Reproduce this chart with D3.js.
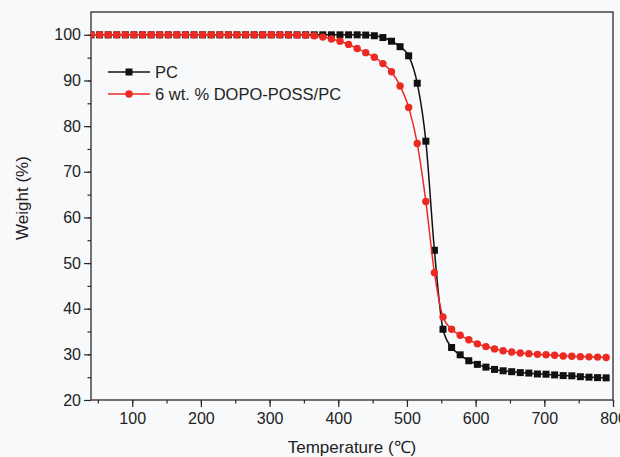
<!DOCTYPE html>
<html>
<head>
<meta charset="utf-8">
<script src="https://cdn.jsdelivr.net/npm/d3@7"></script>
<style>
    body { margin: 0; background: #f8f9fb; }
    svg { display: block; font-family: "Liberation Sans", Arial, sans-serif; }
</style>
</head>
<body>
<div id="chart"></div>
<script>
// Temperature (C) at each plotted marker
var temps = [40, 52.5, 65, 77.5, 90, 102.5, 115, 127.5, 140, 152.5,
             165, 177.5, 190, 202.5, 215, 227.5, 240, 252.5, 265, 277.5,
             290, 302.5, 315, 327.5, 340, 352.5, 365, 377.5, 390, 402.5,
             415, 427.5, 440, 452.5, 465, 477.5, 490, 502.5, 515, 527.5,
             540, 552.5, 565, 577.5, 590, 602.5, 615, 627.5, 640, 652.5,
             665, 677.5, 690, 702.5, 715, 727.5, 740, 752.5, 765, 777.5,
             790];

// Weight (%) of neat PC
var pc = [100, 100, 100, 100, 100, 100, 100, 100, 100, 100,
          100, 100, 100, 100, 100, 100, 100, 100, 100, 100,
          100, 100, 100, 100, 100, 100, 100, 100, 100, 100,
          100, 100, 99.95, 99.8, 99.4, 98.6, 97.4, 95.4, 89.4, 76.7,
          52.8, 35.5, 31.5, 29.9, 28.6, 27.8, 27.2, 26.7, 26.4, 26.2,
          26.0, 25.9, 25.7, 25.65, 25.5, 25.35, 25.3, 25.1, 25.0, 24.9,
          24.85];

// Weight (%) of 6 wt.% DOPO-POSS/PC
var dopo = [100, 100, 100, 100, 100, 100, 100, 100, 100, 100,
            100, 100, 100, 100, 100, 100, 100, 100, 100, 100,
            100, 100, 100, 99.95, 99.95, 99.9, 99.8, 99.5, 99.1, 98.6,
            97.9, 97.0, 96.1, 95.1, 93.7, 91.9, 88.8, 84.1, 76.2, 63.5,
            47.9, 38.2, 35.5, 34.2, 33.2, 32.3, 31.7, 31.2, 30.8, 30.5,
            30.3, 30.15, 30.0, 29.9, 29.8, 29.65, 29.6, 29.5, 29.45, 29.4,
            29.3];

var xTicks = [100, 200, 300, 400, 500, 600, 700, 800];
var yTicks = [20, 30, 40, 50, 60, 70, 80, 90, 100];
var seriesNames = ["PC", "6 wt. % DOPO-POSS/PC"];

(function(){
    var width = 620, height = 457;
    var left = 91, right = 613, top = 12, bottom = 400;
    var ink = "#2a2a2a";
    var red = "#ec2a22";

    var svg = d3.select("#chart").append("svg")
                .attr("width", width)
                .attr("height", height);

    var x = d3.scaleLinear().domain([40, 800]).range([left, right]);
    var y = d3.scaleLinear().domain([20, 105]).range([bottom, top]);

    svg.append("defs").append("clipPath").attr("id", "plot-clip")
       .append("rect")
       .attr("x", left).attr("y", top)
       .attr("width", right - left).attr("height", bottom - top);

    //
    // axes: major ticks with labels, minor ticks in between, outward
    //
    var xMinor = d3.range(50, 801, 50);
    var yMinor = d3.range(25, 105, 5);

    var gx = svg.append("g").attr("transform", "translate(0," + bottom + ")");
    gx.call(d3.axisBottom(x).tickValues(xMinor).tickSize(3.5).tickFormat(""));
    gx.call(function(g) {
        g.append("g").call(d3.axisBottom(x).tickValues(xTicks).tickSize(7)
                                 .tickPadding(6).tickFormat(d3.format("d")));
    });
    var gy = svg.append("g").attr("transform", "translate(" + left + ",0)");
    gy.call(d3.axisLeft(y).tickValues(yMinor).tickSize(3.5).tickFormat(""));
    gy.call(function(g) {
        g.append("g").call(d3.axisLeft(y).tickValues(yTicks).tickSize(7)
                                 .tickPadding(3).tickFormat(d3.format("d")));
    });
    svg.selectAll(".domain").remove();
    svg.selectAll(".tick line").attr("stroke", ink).attr("stroke-width", 1.2);
    svg.selectAll(".tick text").attr("fill", "#222").style("font-size", "16px")
       .style("font-family", "\"Liberation Sans\", Arial, sans-serif");

    // frame
    svg.append("rect")
       .attr("x", left).attr("y", top)
       .attr("width", right - left).attr("height", bottom - top)
       .attr("fill", "none").attr("stroke", ink).attr("stroke-width", 1.3);

    //
    // series: line through the data with markers on each point
    //
    var line = d3.line()
                 .x(function(d) { return x(d[0]); })
                 .y(function(d) { return y(d[1]); })
                 .curve(d3.curveMonotoneX);
    var plot = svg.append("g").attr("clip-path", "url(#plot-clip)");

    var pcData = d3.zip(temps, pc);
    var dopoData = d3.zip(temps, dopo);

    plot.append("path").datum(pcData).attr("d", line)
        .attr("fill", "none").attr("stroke", "#111").attr("stroke-width", 1.5);
    plot.selectAll("rect.pc").data(pcData).enter().append("rect")
        .attr("class", "pc")
        .attr("x", function(d) { return x(d[0]) - 3.5; })
        .attr("y", function(d) { return y(d[1]) - 3.5; })
        .attr("width", 7).attr("height", 7)
        .attr("fill", "#111");

    plot.append("path").datum(dopoData).attr("d", line)
        .attr("fill", "none").attr("stroke", red).attr("stroke-width", 1.5);
    plot.selectAll("circle.dopo").data(dopoData).enter().append("circle")
        .attr("class", "dopo")
        .attr("cx", function(d) { return x(d[0]); })
        .attr("cy", function(d) { return y(d[1]); })
        .attr("r", 3.7)
        .attr("fill", red);

    //
    // legend
    //
    var legend = svg.append("g");
    var lx0 = 108, lx1 = 150, ly0 = 72, lstep = 22;
    seriesNames.forEach(function(name, i) {
        var ly = ly0 + i * lstep;
        var col = i == 0 ? "#111" : red;
        legend.append("line")
              .attr("x1", lx0).attr("x2", lx1).attr("y1", ly).attr("y2", ly)
              .attr("stroke", col).attr("stroke-width", 1.5);
        if (i == 0)
            legend.append("rect").attr("x", (lx0 + lx1) / 2 - 3.5)
                  .attr("y", ly - 3.5).attr("width", 7).attr("height", 7)
                  .attr("fill", col);
        else
            legend.append("circle").attr("cx", (lx0 + lx1) / 2).attr("cy", ly)
                  .attr("r", 3.7).attr("fill", col);
        legend.append("text")
              .attr("x", lx1 + 5).attr("y", ly + 6)
              .attr("fill", "#222").style("font-size", "16.5px")
              .text(name);
    });

    //
    // axis titles
    //
    svg.append("text")
       .attr("x", 352).attr("y", 453)
       .attr("text-anchor", "middle")
       .attr("fill", "#222").style("font-size", "17px")
       .text("Temperature (\u2103)");
    svg.append("text")
       .attr("transform", "translate(28,198) rotate(-90)")
       .attr("text-anchor", "middle")
       .attr("fill", "#222").style("font-size", "17px")
       .text("Weight (%)");
})();
</script>
</body>
</html>
